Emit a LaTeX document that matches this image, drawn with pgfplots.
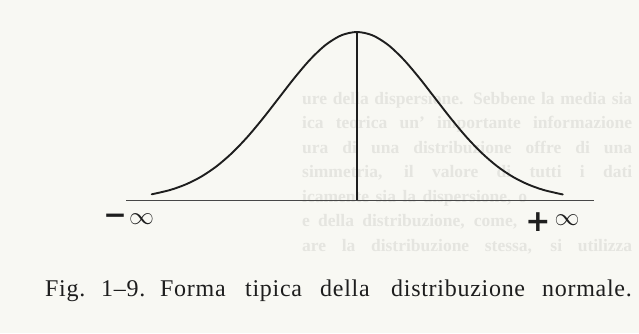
\documentclass[border=0pt]{standalone}
\usepackage{fontspec}
\setmainfont{Liberation Serif}
\newfontfamily\signfont{DejaVu Sans}
\usepackage{pgfplots}
\pgfplotsset{compat=1.18}

\definecolor{paper}{RGB}{248,248,243}
\definecolor{ink}{RGB}{30,30,30}
\definecolor{showthrough}{RGB}{229,229,224}

\begin{document}
\begin{tikzpicture}[x=1pt,y=1pt]
  \useasboundingbox (0,0) rectangle (639,333);
  \clip (0,0) rectangle (639,333);
  \fill[paper] (0,0) rectangle (639,333);

  % text of the facing page showing through the paper
  \begin{scope}[every node/.style={anchor=base west,inner sep=0pt,text=showthrough,
      font=\fontsize{17.5}{22}\selectfont\bfseries}]
    \node at (302,229) {\makebox[330pt][s]{ure della dispersione. Sebbene la media sia}};
    \node at (302,204.5) {\makebox[330pt][s]{ica teorica un' importante informazione}};
    \node at (302,180) {\makebox[330pt][s]{ura di una distribuzione offre di una}};
    \node at (302,155.5) {\makebox[330pt][s]{simmetria, il valore di tutti i dati}};
    \node at (302,131) {\makebox[225pt][s]{icamente sia la dispersione, o}};
    \node at (302,106.5) {\makebox[215pt][s]{e della distribuzione, come,}};
    \node at (302,82) {\makebox[330pt][s]{are la distribuzione stessa, si utilizza}};
  \end{scope}

  \begin{axis}[
      at={(126pt,133.5pt)}, anchor=south west,
      scale only axis, width=468pt, height=167.5pt,
      xmin=-2.96, xmax=3.04, ymin=0, ymax=1,
      axis lines=none, clip=false,
    ]
    % baseline
    \addplot[black!72, line width=1.9pt] coordinates {(-2.96,-0.006) (3.04,-0.006)};
    % bell curve
    \addplot[ink, line width=1.9pt, smooth, line cap=round] coordinates {
      (-2.63,0.031) (-2.4,0.0561) (-2.2,0.0889) (-2.0,0.1353) (-1.8,0.1979)
      (-1.6,0.2780) (-1.4,0.3753) (-1.2,0.4868) (-1.0,0.6065) (-0.8,0.7261)
      (-0.6,0.8353) (-0.4,0.9231) (-0.2,0.9802) (0,1) (0.2,0.9802)
      (0.4,0.9231) (0.6,0.8353) (0.8,0.7261) (1.0,0.6065) (1.2,0.4868)
      (1.4,0.3753) (1.6,0.2780) (1.8,0.1979) (2.0,0.1353) (2.2,0.0889)
      (2.4,0.0561) (2.64,0.030)};
    % mean
    \addplot[ink, line width=1.5pt] coordinates {(0,0) (0,1)};
  \end{axis}

  % infinity labels
  \node[inner sep=0pt, text=ink] at (115,114) {\signfont\bfseries\fontsize{28}{28}\selectfont −};
  \node[inner sep=0pt, text=ink] at (141.5,114) {\fontsize{24}{24}\selectfont$\infty$};
  \node[inner sep=0pt, text=ink] at (538,111) {\signfont\bfseries\fontsize{30}{30}\selectfont +};
  \node[inner sep=0pt, text=ink] at (567,113) {\fontsize{24}{24}\selectfont$\infty$};

  % caption, one word at a time for the wide book spacing
  \begin{scope}[every node/.style={anchor=base west,inner sep=0pt,text=ink,
      font=\fontsize{24}{28}\selectfont\addfontfeatures{LetterSpace=3}}]
    \node at (45,36.3) {Fig.};
    \node at (101,36.3) {1--9.};
    \node at (160,36.3) {Forma};
    \node at (245,36.3) {tipica};
    \node at (320,36.3) {della};
    \node at (391,36.3) {distribuzione};
    \node at (542,36.3) {normale.};
  \end{scope}
\end{tikzpicture}
\end{document}
